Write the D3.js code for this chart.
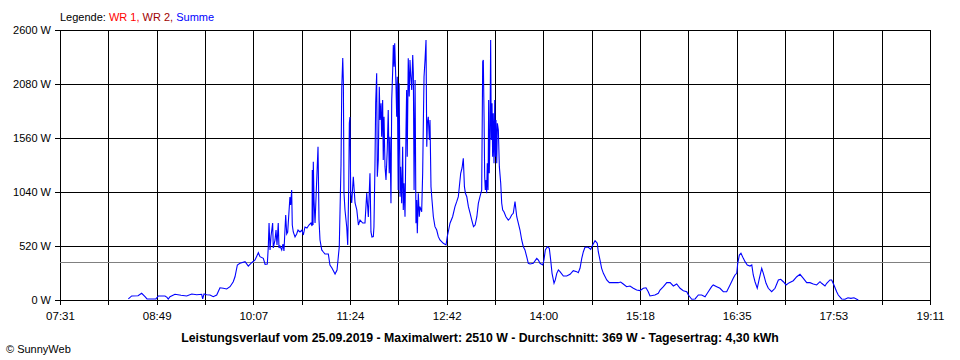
<!DOCTYPE html>
<html><head><meta charset="utf-8">
<script src="https://cdn.jsdelivr.net/npm/d3@7"></script>
<style>
html,body{margin:0;padding:0;background:#fff;}
svg{display:block;font-family:"Liberation Sans",Arial,sans-serif;}
</style></head>
<body><svg id="c" width="960" height="360"></svg>
<script>
// ---- data ----
const legendItems = ["WR 1,", "WR 2,", "Summe"];
const legendColors = ["#ff0000", "#a00000", "#0000ff"];
const yTicks = [0, 520, 1040, 1560, 2080, 2600];
const xTickLabels = ["07:31","08:49","10:07","11:24","12:42","14:00","15:18","16:35","17:53","19:11"];
const xStart = 451, xEnd = 1151; // minutes since midnight (07:31 - 19:11)
const average = 369;
const titleText = "Leistungsverlauf vom 25.09.2019 - Maximalwert: 2510 W - Durchschnitt: 369 W - Tagesertrag: 4,30 kWh";
const times = [506.0,508.7,513.8,516.7,519.4,521.0,528.2,530.1,535.5,537.1,538.1,539.5,543.5,548.4,552.9,557.0,561.0,565.0,565.8,566.9,569.0,571.7,574.3,577.1,579.7,582.4,585.1,587.8,590.4,591.8,593.7,595.8,599.9,602.5,605.2,607.9,610.6,611.9,614.6,616.0,617.8,618.6,
619.2,620.0,620.8,622.1,622.6,624.0,624.8,625.6,626.6,627.2,628.0,629.4,630.4,631.2,632.6,633.4,634.2,636.0,636.6,637.4,637.9,638.7,640.1,641.4,642.5,644.1,645.7,646.8,648.1,649.7,651.3,652.9,653.8,654.0,654.6,654.8,655.4,656.2,658.6,659.4,660.2,661.6,662.9,664.2,666.9,668.2,669.8,672.3,673.9,675.7,676.5,677.1,677.7,678.5,679.0,679.5,680.3,681.7,682.5,683.3,683.8,684.3,684.9,685.7,687.0,688.4,689.8,691.1,692.4,694.6,696.4,697.8,699.1,700.4,701.2,702.0,703.1,
703.6,704.4,705.0,705.8,706.3,707.1,707.9,708.5,709.3,709.8,710.6,711.1,711.7,712.5,713.3,714.3,715.1,715.9,716.5,717.3,717.9,718.7,719.2,719.8,720.3,720.8,721.3,721.9,722.4,723.1,723.9,724.6,725.1,725.9,726.7,727.2,727.8,728.6,729.4,729.9,730.4,731.2,732.0,732.6,733.1,734.0,734.8,735.3,735.9,736.7,737.4,738.0,738.5,739.3,740.1,740.6,742.0,742.8,743.3,743.9,744.7,745.5,746.1,746.6,747.3,748.2,748.7,749.5,750.3,751.4,752.7,754.1,755.4,756.7,759.4,761.6,762.6,763.7,764.8,766.9,768.8,770.2,771.5,772.3,773.4,774.5,775.5,776.4,777.2,778.3,779.6,781.0,782.3,783.7,785.0,786.4,
787.6,788.9,790.3,791.1,791.6,792.2,792.7,793.2,793.8,794.3,794.8,795.4,795.9,796.4,797.0,797.5,798.0,798.6,799.1,799.6,800.2,800.8,801.3,801.8,802.4,802.9,803.7,804.5,805.6,806.4,807.2,808.2,809.8,811.7,813.1,814.4,815.7,817.1,818.5,819.8,821.1,822.5,823.8,825.1,826.5,827.8,829.2,831.8,834.6,835.9,837.2,839.4,840.4,841.5,843.1,844.7,845.8,846.9,848.5,849.5,850.7,852.0,853.3,856.0,858.7,861.4,864.0,866.7,
868.0,869.4,870.8,872.1,873.4,876.1,878.0,879.6,881.5,883.3,884.1,885.5,886.8,888.2,890.9,893.0,896.2,900.2,902.1,904.2,906.9,909.6,912.3,915.0,917.7,920.3,922.5,924.3,925.7,929.7,932.4,933.8,936.5,939.2,941.9,944.5,947.2,949.9,952.5,955.3,956.6,959.3,962.0,964.6,967.3,970.0,972.6,975.3,976.6,979.4,982.0,984.7,987.4,990.1,992.7,994.1,995.5,996.3,997.6,998.9,1000.8,1002.2,1004.0,1006.2,1007.6,1008.8,1010.2,1012.0,1013.7,1015.6,1016.9,1019.1,1020.9,1023.6,1026.3,1029.0,1030.9,1033.0,1035.2,1037.8,1041.0,1043.8,1046.4,1049.1,1051.8,1054.4,1057.1,1059.8,1062.5,1063.8,1066.5,1067.9,1070.5,1071.9,1073.7,1075.9,1077.2,1079.9,1082.6,1085.0,1087.4,1089.8,1093.3];
const watts = [10,39,41,65,32,10,10,39,39,26,10,32,55,45,39,58,51,55,10,58,51,48,32,48,118,113,106,128,176,224,337,353,369,327,359,385,455,417,401,344,347,513,
741,482,616,741,501,578,674,530,741,501,520,482,539,472,819,636,655,992,915,1059,722,655,607,636,674,655,674,626,703,693,722,741,713,1252,722,1332,963,741,1476,770,578,482,462,443,443,337,308,250,289,513,963,1300,2042,2330,2099,1030,867,703,530,1088,1705,1762,1030,934,1187,934,867,722,770,741,741,1030,799,1220,655,607,610,
703,1284,1897,2183,1187,1348,2054,1733,1894,1573,1926,1348,1765,1284,1156,1445,1830,1220,1573,931,1926,2215,2456,2247,2472,2279,2087,1765,2150,1059,2087,995,1284,931,1476,867,1124,802,1637,2022,1380,2328,1959,2311,2183,2022,2359,2183,1059,2119,739,963,642,1028,802,899,850,1220,1669,2150,2311,2504,1476,1702,1765,1541,1733,1091,963,802,706,674,610,578,546,530,610,674,739,802,899,947,995,1091,1220,1271,1365,1091,1028,995,899,835,770,706,722,802,
931,995,1059,2295,2311,1765,1187,1059,1156,1028,1316,1059,1926,1220,1637,2504,1541,1894,1380,1798,1316,1926,1380,1733,1316,1702,1637,1284,1124,931,867,850,802,770,787,819,835,947,802,739,674,578,513,482,417,353,347,353,401,385,353,337,385,482,513,498,385,257,161,193,257,289,273,231,231,247,282,273,
263,305,401,465,508,508,488,530,571,546,465,385,305,257,193,167,167,167,173,154,128,135,113,96,90,113,118,80,39,48,65,96,128,167,167,135,154,113,90,80,48,7,10,48,48,32,80,128,145,128,113,80,80,145,209,241,257,353,433,450,401,369,337,327,337,241,176,113,209,305,257,161,113,80,113,193,199,176,145,167,186,224,247,209,167,167,154,145,176,161,135,161,193,193,145,80,48,10,7,22,16,22,0];

// ---- layout ----
const svg = d3.select("#c");
const L = 60, R = 930, T = 30, B = 300;
const x = d3.scaleLinear().domain([xStart, xEnd]).range([L, R]);
const y = d3.scaleLinear().domain([0, 2600]).range([B, T]);
const nX = (xTickLabels.length - 1) * 2;
const xTickVals = d3.range(nX + 1).map(i => xStart + i * (xEnd - xStart) / nX);

// horizontal grid + y labels
const gy = svg.append("g").attr("transform", `translate(${L},0)`)
  .call(d3.axisLeft(y).tickValues(yTicks).tickSize(-(R - L + 5)).tickPadding(4)
    .tickFormat(d => d + " W"));
gy.select(".domain").remove();
gy.selectAll(".tick line").attr("x1", 0).attr("x2", R - L).attr("stroke", "#000").attr("shape-rendering", "crispEdges");
gy.selectAll(".tick").append("line").attr("x1", -5).attr("x2", 0).attr("stroke", "#000").attr("shape-rendering", "crispEdges");
gy.selectAll(".tick text").attr("x", -9).attr("dy", "0.32em").attr("font-size", 11).attr("fill", "#000")
  .attr("font-family", "'Liberation Sans',Arial,sans-serif");

// vertical grid + x labels
const gx = svg.append("g").attr("transform", `translate(0,${B})`)
  .call(d3.axisBottom(x).tickValues(xTickVals).tickSize(5).tickPadding(7)
    .tickFormat((d, i) => i % 2 === 0 ? xTickLabels[i / 2] : ""));
gx.select(".domain").remove();
gx.selectAll(".tick line").attr("y1", -(B - T)).attr("y2", 5).attr("stroke", "#000").attr("shape-rendering", "crispEdges");
gx.selectAll(".tick text").attr("font-size", 11.5).attr("fill", "#000")
  .attr("font-family", "'Liberation Sans',Arial,sans-serif");

// average line
svg.append("line").attr("x1", L).attr("x2", R).attr("y1", Math.round(y(average)) + 0.5).attr("y2", Math.round(y(average)) + 0.5)
  .attr("stroke", "#808080").attr("stroke-width", 1).attr("shape-rendering", "crispEdges");

// data line
const pts = times.map((t, i) => [t, watts[i]]);
svg.append("path").datum(pts)
  .attr("d", d3.line().x(d => x(d[0])).y(d => y(d[1])))
  .attr("fill", "none").attr("stroke", "#0000ff").attr("stroke-width", 1.1);

// legend
const leg = svg.append("text").attr("x", 60).attr("y", 20.5).attr("font-size", 11);
leg.append("tspan").text("Legende: ").attr("fill", "#000");
legendItems.forEach((s, i) => leg.append("tspan").text(s + (i < legendItems.length - 1 ? " " : "")).attr("fill", legendColors[i]));

// title
svg.append("text").attr("x", 480).attr("y", 341.5).attr("text-anchor", "middle")
  .attr("font-size", 12.3).attr("font-weight", "bold").attr("fill", "#000")
  .text(titleText);

svg.append("text").attr("x", 6).attr("y", 353).attr("font-size", 11).attr("fill", "#000").text("© SunnyWeb");
</script></body></html>
